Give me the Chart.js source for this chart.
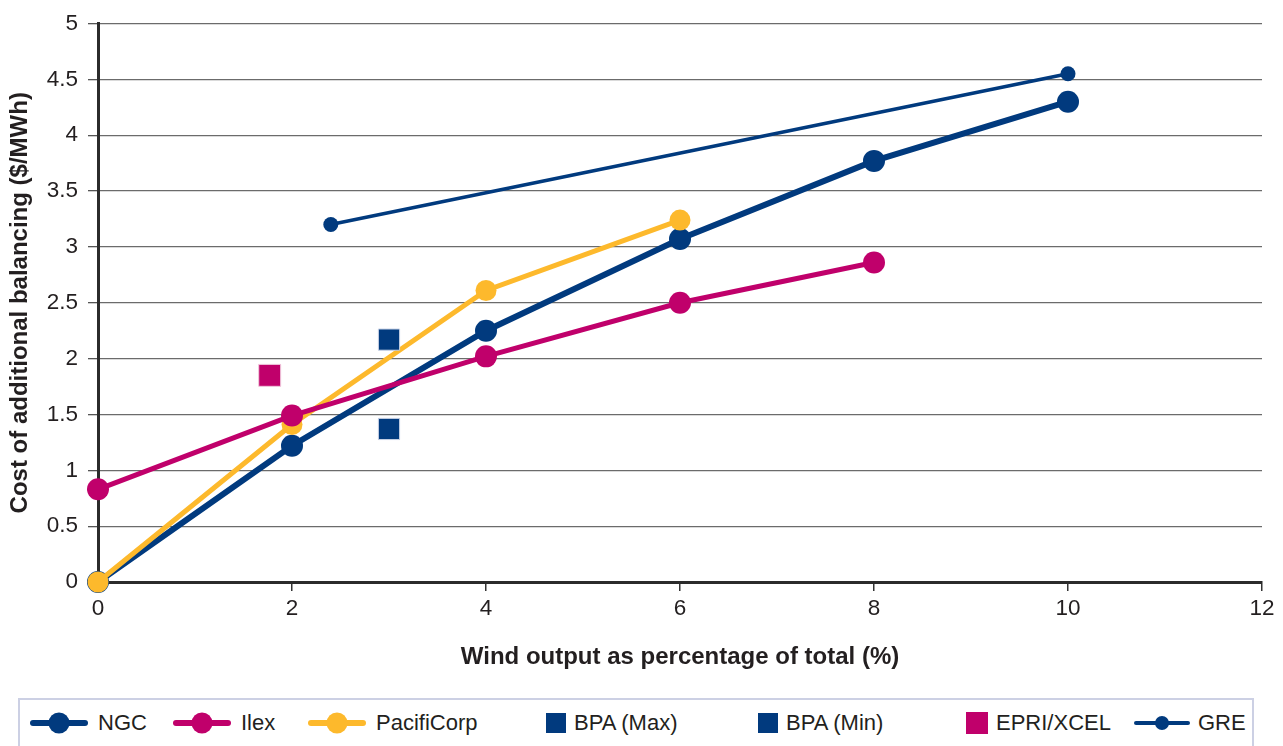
<!DOCTYPE html>
<html>
<head>
<meta charset="utf-8">
<script src="https://cdn.jsdelivr.net/npm/chart.js@4/dist/chart.umd.min.js"></script>
<style>
  body { margin: 0; background: #fff; }
  #wrap { position: absolute; left: 0; top: 0; width: 1283px; height: 690px; }
  #legend { position: absolute; left: 18px; top: 698px; width: 1236px; height: 60px;
            border: 2px solid #ccd0e4; box-sizing: border-box; }
  .item { position: absolute; top: 0; height: 46px; display: flex; align-items: center;
          font-family: "Liberation Sans", Arial, sans-serif; font-size: 22px; color: #231f20; }
  .icon { position: relative; }
  .icon .ln { position: absolute; left: 0; right: 0; top: 50%; border-radius: 3px; }
  .icon .dot { position: absolute; left: 50%; top: 50%; border-radius: 50%; transform: translate(-50%, -50%); }
</style>
</head>
<body>
<div id="wrap"><canvas id="chart" width="1283" height="690"></canvas></div>
<div id="legend"></div>
<script>
// valeurs
const xTicks = [0, 2, 4, 6, 8, 10, 12];
const ngcX = [0, 2, 4, 6, 8, 10];
const ngcY = [0, 1.22, 2.25, 3.07, 3.77, 4.30];
const ilexX = [0, 2, 4, 6, 8];
const ilexY = [0.83, 1.49, 2.02, 2.50, 2.86];
const pacX = [0, 2, 4, 6];
const pacY = [0, 1.41, 2.61, 3.24];
const bpaMaxX = [3];
const bpaMaxY = [2.17];
const bpaMinX = [3];
const bpaMinY = [1.37];
const epriX = [1.77];
const epriY = [1.85];
const greX = [2.4, 10];
const greY = [3.20, 4.55];

const BLUE = '#013a7e';
const MAGENTA = '#c0006b';
const GOLD = '#fdb92c';

function pts(xs, ys) {
    return xs.map((x, i) => ({ x: x, y: ys[i] }));
}

const datasets = [
    { label: 'NGC', data: pts(ngcX, ngcY), showLine: true, borderColor: BLUE, backgroundColor: BLUE,
      borderWidth: 6, pointRadius: 11, order: 3 },
    { label: 'Ilex', data: pts(ilexX, ilexY), showLine: true, borderColor: MAGENTA, backgroundColor: MAGENTA,
      borderWidth: 5, pointRadius: 11, order: 1 },
    { label: 'PacifiCorp', data: pts(pacX, pacY), showLine: true, borderColor: GOLD, backgroundColor: GOLD,
      borderWidth: 5, pointRadius: 10.5, order: 2 },
    { label: 'BPA (Max)', data: pts(bpaMaxX, bpaMaxY), showLine: false, pointStyle: 'rect',
      backgroundColor: BLUE, borderColor: '#c8d2e6', borderWidth: 1, pointRadius: 15, order: 0 },
    { label: 'BPA (Min)', data: pts(bpaMinX, bpaMinY), showLine: false, pointStyle: 'rect',
      backgroundColor: BLUE, borderColor: '#c8d2e6', borderWidth: 1, pointRadius: 15, order: 0 },
    { label: 'EPRI/XCEL', data: pts(epriX, epriY), showLine: false, pointStyle: 'rect',
      backgroundColor: MAGENTA, borderColor: '#f0c8dc', borderWidth: 1, pointRadius: 15.5, order: 0 },
    { label: 'GRE', data: pts(greX, greY), showLine: true, borderColor: BLUE, backgroundColor: BLUE,
      borderWidth: 3.5, pointRadius: 7.5, order: 0 }
];
datasets.forEach(d => { d.clip = false; d.pointBorderWidth = d.showLine ? 0 : 1; d.pointHoverRadius = d.pointRadius; });

const tickFont = { family: '"Liberation Sans", Arial, sans-serif', size: 22.5 };
const titleFont = { family: '"Liberation Sans", Arial, sans-serif', size: 24, weight: 'bold' };

new Chart(document.getElementById('chart').getContext('2d'), {
    type: 'scatter',
    data: { datasets: datasets },
    options: {
        responsive: false,
        animation: false,
        events: [],
        layout: { padding: { top: 18, right: 21, bottom: 18, left: 0 } },
        scales: {
            x: {
                type: 'linear',
                min: 0, max: 12,
                afterBuildTicks: s => { s.ticks = xTicks.map(v => ({ value: v })); },
                afterFit: s => { s.height = 90; },
                ticks: { font: tickFont, color: '#231f20', padding: 4, callback: v => String(v) },
                grid: { drawOnChartArea: false, drawTicks: true, tickLength: 9, color: '#333', lineWidth: 1.5 },
                border: { color: '#2b2b2b', width: 3 },
                title: { display: true, text: 'Wind output as percentage of total (%)', font: titleFont,
                         color: '#231f20', padding: { top: 0, bottom: 0 } }
            },
            y: {
                min: 0, max: 5,
                afterFit: s => { s.width = 98; },
                ticks: { stepSize: 0.5, font: tickFont, color: '#231f20', padding: 10, callback: v => String(v) },
                grid: { color: '#6b6b6b', lineWidth: 1.3, tickLength: 10, tickColor: '#555' },
                border: { color: '#2b2b2b', width: 3 },
                title: { display: true, text: 'Cost of additional balancing ($/MWh)', font: titleFont,
                         color: '#231f20', padding: { top: 6, bottom: 0 } }
            }
        },
        plugins: {
            legend: { display: false },
            tooltip: { enabled: false }
        }
    }
});

// legende HTML, construite depuis les datasets
const legendLeft = [10, 153, 288, 526, 738, 946, 1114];
const legend = document.getElementById('legend');
datasets.forEach((d, i) => {
    const item = document.createElement('div');
    item.className = 'item';
    item.style.left = legendLeft[i] + 'px';
    const icon = document.createElement('div');
    icon.className = 'icon';
    let gap = 8;
    if (d.showLine) {
        const thin = d.label === 'GRE';
        icon.style.width = (thin ? 56 : 58) + 'px';
        icon.style.height = '24px';
        const ln = document.createElement('div');
        ln.className = 'ln';
        const lw = thin ? 4 : 6;
        ln.style.height = lw + 'px';
        ln.style.marginTop = (-lw / 2) + 'px';
        ln.style.background = d.borderColor;
        const dot = document.createElement('div');
        dot.className = 'dot';
        const r = thin ? 7 : 10.5;
        dot.style.width = dot.style.height = (2 * r) + 'px';
        dot.style.background = d.borderColor;
        icon.appendChild(ln);
        icon.appendChild(dot);
        gap = thin ? 8 : 10;
    } else {
        const side = d.label === 'EPRI/XCEL' ? 22 : 20;
        icon.style.width = icon.style.height = side + 'px';
        icon.style.background = d.backgroundColor;
        gap = 8;
    }
    const txt = document.createElement('span');
    txt.textContent = d.label;
    txt.style.marginLeft = gap + 'px';
    item.appendChild(icon);
    item.appendChild(txt);
    legend.appendChild(item);
});
</script>
</body>
</html>
